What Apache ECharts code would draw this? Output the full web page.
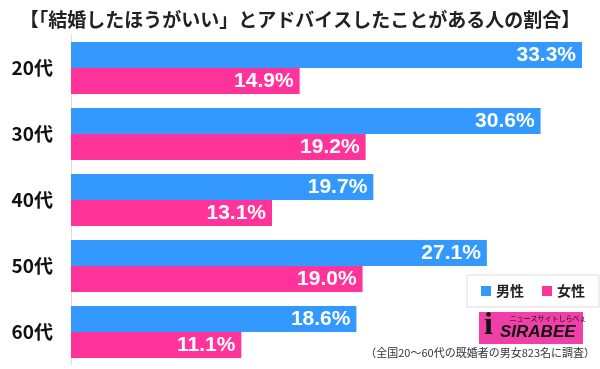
<!DOCTYPE html>
<html><head><meta charset="utf-8">
<script src="https://cdn.jsdelivr.net/npm/echarts@6/dist/echarts.min.js"></script>
<style>html,body{margin:0;padding:0;background:#fff}#c{width:600px;height:369px}</style>
</head><body><div id="c"></div>
<script>
const categories = ['20代','30代','40代','50代','60代'];
const male = [33.3, 30.6, 19.7, 27.1, 18.6];
const female = [14.9, 19.2, 13.1, 19.0, 11.1];
const seriesNames = ['男性','女性'];
const FONT = '"Noto Sans CJK JP", "Liberation Sans", sans-serif';
const chart = echarts.init(document.getElementById('c'));
const labelCfg = {show:true, position:'insideRight', distance:6, color:'#fff', fontSize:21, fontWeight:'bold', fontFamily:'"Liberation Sans", Arial, sans-serif', formatter: p => p.value.toFixed(1) + '%'};
chart.setOption({
  animation:false,
  title:{text:'【「結婚したほうがいい」とアドバイスしたことがある人の割合】', left:'center', top:5, textStyle:{fontSize:19, fontWeight:'bold', color:'#222', fontFamily:FONT}},
  grid:{left:71, right:18, top:35, bottom:4, containLabel:false},
  xAxis:{type:'value', min:0, max:Math.max(...male), show:false},
  yAxis:{type:'category', data:categories, inverse:true, axisTick:{show:false}, axisLine:{show:true, lineStyle:{color:'#ddd'}}, axisLabel:{fontSize:19, fontWeight:'bold', color:'#111', margin:18, fontFamily:FONT}},
  legend:{data:seriesNames, left:467, top:275, width:140, orient:'horizontal', itemWidth:10, itemHeight:10, itemGap:18, padding:[9,14], borderColor:'#ddd', borderWidth:1, backgroundColor:'#fff', icon:'rect', textStyle:{fontSize:14, fontWeight:'bold', color:'#222', fontFamily:FONT}},
  series:[
    {name:seriesNames[0], type:'bar', data:male, itemStyle:{color:'#3399ff'}, barGap:'0%', barCategoryGap:'21%', label:labelCfg},
    {name:seriesNames[1], type:'bar', data:female, itemStyle:{color:'#ff3399'}, barGap:'0%', barCategoryGap:'21%', label:labelCfg}
  ],
  graphic:[
    {type:'rect', shape:{x:479,y:312,width:104,height:32}, style:{fill:'#f040a8'}, z:10},
    {type:'text', style:{x:548, y:315, text:'ニュースサイトしらべぇ', fontSize:7, fill:'#111', fontFamily:FONT, textAlign:'center'}, z:11},
    {type:'text', style:{x:484, y:310, text:'i', fontSize:32, fontWeight:'bold', fill:'#111', fontFamily:'"Liberation Serif", serif'}, z:11},
    {type:'text', style:{x:500, y:324, text:'SIRABEE', fontSize:17, fontWeight:'bold', fontStyle:'italic', fill:'#111', fontFamily:'"Liberation Sans", Arial, sans-serif'}, z:11},
    {type:'text', style:{x:595, y:347, text:'（全国20～60代の既婚者の男女823名に調査）', textAlign:'right', fontSize:11, fill:'#333', fontFamily:FONT}, z:11}
  ]
});
</script></body></html>
